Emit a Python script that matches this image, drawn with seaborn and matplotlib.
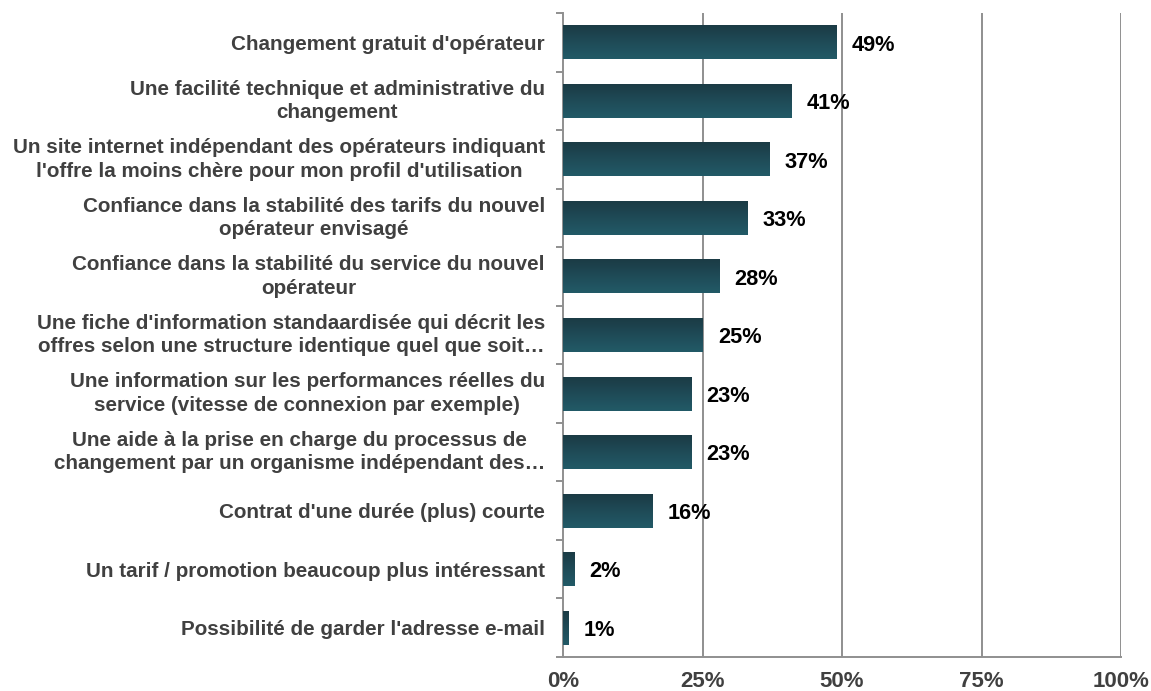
import numpy as np
import pandas as pd
import matplotlib
matplotlib.use("Agg")
import matplotlib.pyplot as plt
from matplotlib.colors import LinearSegmentedColormap
from matplotlib.ticker import FixedLocator, PercentFormatter
import seaborn as sns

categories = [
    "Changement gratuit d'opérateur",
    "Une facilité technique et administrative du\nchangement",
    "Un site internet indépendant des opérateurs indiquant\nl'offre la moins chère pour mon profil d'utilisation",
    "Confiance dans la stabilité des tarifs du nouvel\nopérateur envisagé",
    "Confiance dans la stabilité du service du nouvel\nopérateur",
    "Une fiche d'information standaardisée qui décrit les\noffres selon une structure identique quel que soit…",
    "Une information sur les performances réelles du\nservice (vitesse de connexion par exemple)",
    "Une aide à la prise en charge du processus de\nchangement par un organisme indépendant des…",
    "Contrat d'une durée (plus) courte",
    "Un tarif / promotion beaucoup plus intéressant",
    "Possibilité de garder l'adresse e-mail",
]
values = [49, 41, 37, 33, 28, 25, 23, 23, 16, 2, 1]
x_ticks = [0, 25, 50, 75, 100]

sns.set_theme(style="white")
plt.rcParams["font.family"] = ["Liberation Sans", "DejaVu Sans"]

df = pd.DataFrame({"label": categories, "pct": values})

fig = plt.figure(figsize=(11.51, 6.91), dpi=100)
ax = fig.add_axes([563 / 1151, 1 - 657 / 691, (1121 - 563) / 1151, (657 - 13) / 691])

grid_col = "#8f8f8f"
text_col = "#404040"

sns.barplot(data=df, x="pct", y="label", orient="h", color="#1f4c58",
            width=0.58, ax=ax, zorder=3)

ax.set_xlim(0, 100)
ylim = ax.get_ylim()

# vertical gradient fill for each bar (dark at top, lighter at bottom)
cmap = LinearSegmentedColormap.from_list("bar", ["#1b3b45", "#1f4b57", "#225a67"])
grad = np.linspace(0, 1, 64).reshape(-1, 1)
for p in ax.patches:
    x0, y0 = p.get_x(), p.get_y()
    w, h = p.get_width(), p.get_height()
    im = ax.imshow(grad, cmap=cmap, aspect="auto", origin="upper",
                   extent=(x0, x0 + w, y0 + h, y0), zorder=4,
                   interpolation="bilinear")
    im.set_clip_path(p)
    p.set_facecolor("none")
    p.set_edgecolor("none")
ax.set_ylim(ylim)
ax.set_xlim(0, 100)

# value labels
for i, v in enumerate(values):
    ax.annotate(f"{v}%", xy=(v, i), xytext=(11, -2), textcoords="offset points",
                ha="left", va="center", fontsize=15.7, fontweight="bold",
                color="black", zorder=6)

# grid and spines
for gx in x_ticks[1:]:
    ax.axvline(gx, color=grid_col, lw=1.4, zorder=1)
for side in ["top", "right"]:
    ax.spines[side].set_visible(False)
for side in ["left", "bottom"]:
    ax.spines[side].set_color(grid_col)
    ax.spines[side].set_linewidth(1.4)

ax.xaxis.set_major_locator(FixedLocator(x_ticks))
ax.xaxis.set_major_formatter(PercentFormatter(decimals=0))
ax.tick_params(axis="x", which="major", direction="out", length=5, width=1.4,
               color=grid_col, pad=5, labelsize=16, labelcolor=text_col)
for t in ax.get_xticklabels():
    t.set_fontweight("bold")

n = len(categories)
ax.yaxis.set_minor_locator(FixedLocator(np.arange(-0.5, n, 1.0)))
ax.tick_params(axis="y", which="minor", direction="out", length=5, width=1.4,
               color=grid_col, left=True)
ax.tick_params(axis="y", which="major", length=0, pad=13, labelsize=14.9,
               labelcolor=text_col)
for t in ax.get_yticklabels():
    t.set_fontweight("bold")
    t.set_multialignment("center")
    t.set_linespacing(1.3)
    if "\n" in t.get_text():
        t.set_verticalalignment("center")

ax.set_xlabel("")
ax.set_ylabel("")

fig.savefig("out.png", dpi=100)
